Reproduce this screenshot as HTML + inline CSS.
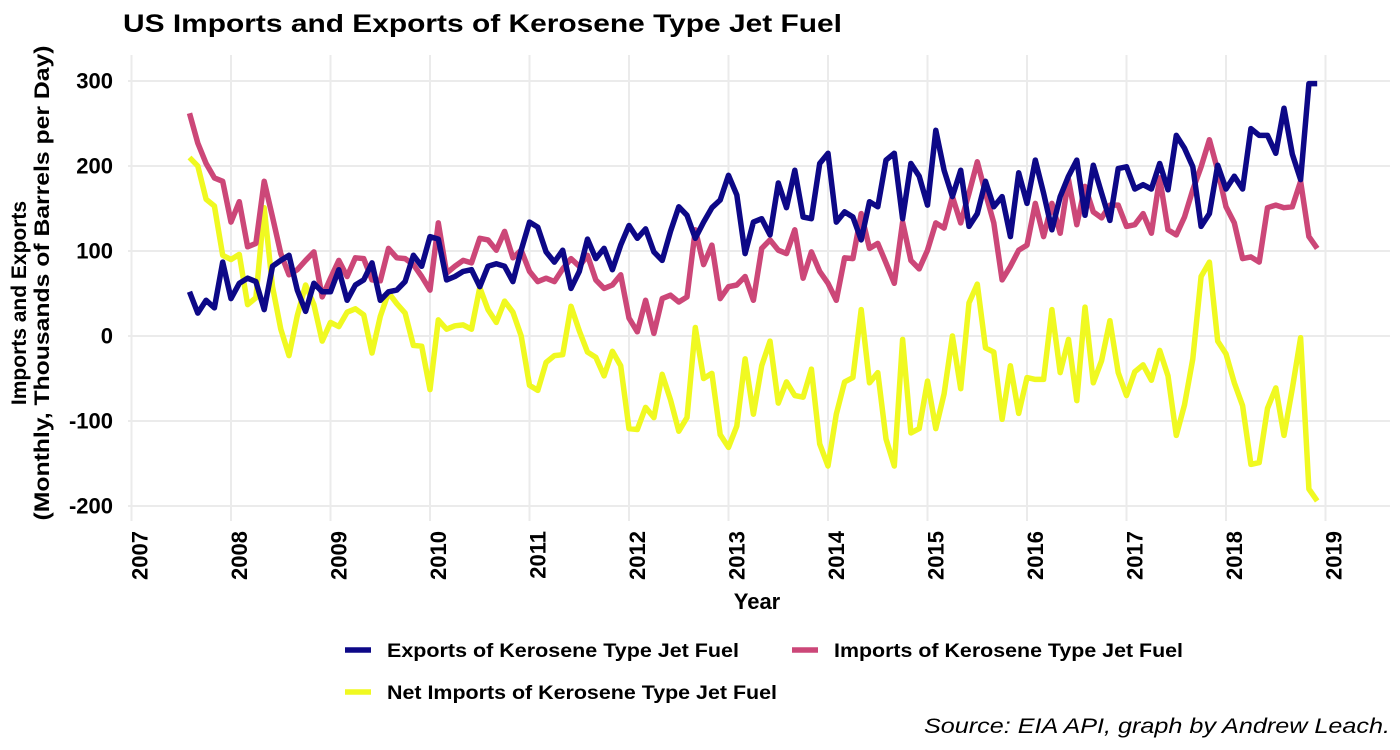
<!DOCTYPE html>
<html><head><meta charset="utf-8"><style>
body{margin:0;background:#fff}
svg{display:block;font-family:"Liberation Sans",Arial,sans-serif}
</style></head><body>
<svg id="chart" width="1400" height="750" viewBox="0 0 1400 750">
<rect width="1400" height="750" fill="#fff"/>
<text x="123" y="32" font-size="25" font-weight="bold" textLength="719" lengthAdjust="spacingAndGlyphs">US Imports and Exports of Kerosene Type Jet Fuel</text>
<g id="grid"></g>
<g id="yticks"></g>
<g id="xticks"></g>
<g id="series"></g>
<text transform="translate(26,303) rotate(-90)" text-anchor="middle" font-size="21" font-weight="bold">Imports and Exports</text>
<text transform="translate(49,283) rotate(-90)" text-anchor="middle" font-size="21" font-weight="bold" textLength="475" lengthAdjust="spacingAndGlyphs">(Monthly, Thousands of Barrels per Day)</text>
<text x="757" y="609" text-anchor="middle" font-size="22" font-weight="bold">Year</text>
<g>
<g><line x1="345" y1="650" x2="371" y2="650" stroke="#0d0887" stroke-width="5.5"/><text x="387" y="657" font-size="19" font-weight="bold" textLength="352" lengthAdjust="spacingAndGlyphs">Exports of Kerosene Type Jet Fuel</text></g>
<g><line x1="792" y1="650" x2="818" y2="650" stroke="#cc4778" stroke-width="5.5"/><text x="834" y="657" font-size="19" font-weight="bold" textLength="349" lengthAdjust="spacingAndGlyphs">Imports of Kerosene Type Jet Fuel</text></g>
<g><line x1="345" y1="692" x2="371" y2="692" stroke="#f0f921" stroke-width="5.5"/><text x="387" y="699" font-size="19" font-weight="bold" textLength="390" lengthAdjust="spacingAndGlyphs">Net Imports of Kerosene Type Jet Fuel</text></g>
</g>
<text x="1390" y="733" text-anchor="end" font-size="21" font-style="italic" textLength="466" lengthAdjust="spacingAndGlyphs">Source: EIA API, graph by Andrew Leach.</text>
</svg>
<script>
const startYear = 2007;
const startMonth = 7; // August 2007 (0-based month)
const exportsVals = [52,27,42,33,87,44,62,68,64,31,82,89,95,54,29,62,52,52,78,42,60,66,86,42,52,54,64,95,82,117,114,66,70,76,
78,58,82,85,82,64,101,134,128,99,87,101,56,76,114,91,103,78,107,130,115,126,99,89,123,152,142,115,134,151,160,189,166,97,134,
138,119,180,151,195,140,138,203,215,134,146,140,113,158,152,207,215,138,203,188,154,242,195,164,195,129,144,182,152,164,117,192,156,207,
168,125,164,188,207,142,201,168,136,197,199,173,178,173,203,172,236,221,199,129,144,201,173,188,173,244,236,236,215,268,214,184,297,297];
const importsVals = [262,227,203,186,182,134,158,105,109,182,140,97,72,78,89,99,46,68,89,70,92,91,66,65,103,92,91,84,70,54,133,74,82,89,86,
115,113,101,123,92,101,76,64,68,64,79,91,82,95,66,56,60,72,21,5,42,3,44,48,40,46,125,84,107,44,58,60,70,42,
103,113,101,97,125,68,99,76,62,42,92,91,144,103,109,86,62,134,89,79,101,133,127,164,133,168,205,168,133,66,82,101,107,156,
117,156,121,184,131,176,146,139,154,154,129,131,144,121,186,125,119,140,172,199,231,195,152,133,91,93,87,151,154,151,152,182,117,103];
const netVals = [210,200,161,153,95,90,96,37,45,151,58,8,-23,24,60,37,-6,16,11,28,32,25,-20,23,51,38,27,-11,-12,-63,19,8,12,13,8,
57,31,16,41,28,0,-58,-64,-31,-23,-22,35,6,-19,-25,-47,-18,-35,-109,-110,-84,-96,-45,-75,-112,-96,10,-50,-44,-116,-131,-106,-27,-92,
-35,-6,-79,-54,-70,-72,-39,-127,-153,-92,-54,-49,31,-55,-43,-121,-153,-4,-114,-109,-53,-109,-68,0,-62,39,61,-14,-19,-98,-35,-91,-49,-51,
-51,31,-43,-4,-76,34,-55,-29,18,-43,-70,-42,-34,-52,-17,-47,-117,-81,-27,70,87,-6,-21,-55,-82,-151,-149,-85,-61,-117,-62,-2,-180,-194];
const yTicks = [300,200,100,0,-100,-200];
const xTicks = [2007,2008,2009,2010,2011,2012,2013,2014,2015,2016,2017,2018,2019];

const NS = "http://www.w3.org/2000/svg";
function xs(t){ return 131.5 + (t - 2007) * 99.5; }
function ys(v){ return 336 - v * 0.85; }
function mk(tag, attrs, parent){ const e = document.createElementNS(NS, tag); for (const k in attrs) e.setAttribute(k, attrs[k]); parent.appendChild(e); return e; }

const grid = document.getElementById('grid');
const yt = document.getElementById('yticks');
const xt = document.getElementById('xticks');
yTicks.forEach(v => {
  const l = mk('line', {x1:128, x2:1390, y1:ys(v), y2:ys(v), stroke:'#ebebeb', 'stroke-width':2}, grid);
  
  
  const t = mk('text', {x:113, y:ys(v)+7.5, 'text-anchor':'end', 'font-size':22, 'font-weight':'bold'}, yt);
  t.textContent = v;
  
  
});
xTicks.forEach(yr => {
  const x = xs(yr);
  const l = mk('line', {x1:x, x2:x, y1:55, y2:521, stroke:'#ebebeb', 'stroke-width':2}, grid);
  
  
  const t = mk('text', {transform:'translate(' + (x + 16) + ',531) rotate(-90)', 'text-anchor':'end', 'font-size':22, 'font-weight':'bold'}, xt);
  t.textContent = yr;
  
  
});

const ser = document.getElementById('series');
function drawLine(vals, color, name){
  const pts = vals.map((v, i) => xs(startYear + (startMonth + i) / 12).toFixed(1) + ',' + ys(v).toFixed(1)).join(' ');
  const p = mk('polyline', {points:pts, fill:'none', stroke:color, 'stroke-width':5.5, 'stroke-linejoin':'round'}, ser);
  
  
}
drawLine(netVals, '#f0f921', 'net-imports-line');
drawLine(importsVals, '#cc4778', 'imports-line');
drawLine(exportsVals, '#0d0887', 'exports-line');
</script>
</body></html>
